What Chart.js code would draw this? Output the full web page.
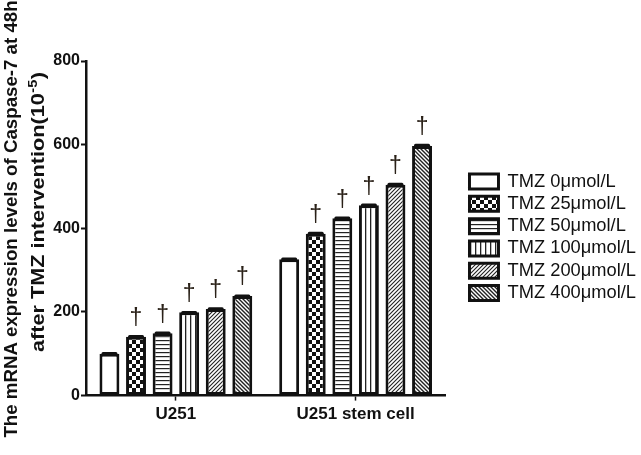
<!DOCTYPE html>
<html><head><meta charset="utf-8">
<script src="https://cdn.jsdelivr.net/npm/chart.js@4.4.1/dist/chart.umd.min.js"></script>
<style>html,body{margin:0;padding:0;background:#fff}#wrap{width:641px;height:455px}</style>
</head><body><div id="wrap"><canvas id="c" width="641" height="455"></canvas></div>
<script>
// ---- data ----
const categories = ['U251', 'U251 stem cell'];
const seriesNames = ['TMZ 0\u03bcmol/L', 'TMZ 25\u03bcmol/L', 'TMZ 50\u03bcmol/L', 'TMZ 100\u03bcmol/L', 'TMZ 200\u03bcmol/L', 'TMZ 400\u03bcmol/L'];
const tmz0   = [100, 326];
const tmz25  = [141, 387];
const tmz50  = [149, 424];
const tmz100 = [199, 455];
const tmz200 = [207, 504];
const tmz400 = [238, 597];
const err0   = [4, 4];
const err25  = [4, 5];
const err50  = [4, 4];
const err100 = [3, 4];
const err200 = [4, 5];
const err400 = [4, 5];
const sig0   = [false, false];
const sig25  = [true, true];
const sig50  = [true, true];
const sig100 = [true, true];
const sig200 = [true, true];
const sig400 = [true, true];
const yTicks = [0, 200, 400, 600, 800];
const yTitleLine1 = 'The mRNA expression levels of Caspase-7 at 48h';
const yTitleLine2 = ['after TMZ intervention(10', '-5', ')'];

const FONT = '"Liberation Sans", Arial, sans-serif';

function makePattern(type) {
  const c = document.createElement('canvas');
  const ctx = c.getContext('2d');
  let s = 8;
  if (type === 'white') { c.width = c.height = 4; ctx.fillStyle = '#fff'; ctx.fillRect(0,0,4,4); return ctx.createPattern(c,'repeat'); }
  if (type === 'checker') {
    s = 8; c.width = c.height = s;
    ctx.fillStyle = '#fff'; ctx.fillRect(0,0,s,s);
    ctx.fillStyle = '#111'; ctx.fillRect(0,0,4,4); ctx.fillRect(4,4,4,4);
  } else if (type === 'hlines') {
    c.width = 4; c.height = 4;
    ctx.fillStyle = '#fff'; ctx.fillRect(0,0,4,4);
    ctx.fillStyle = '#222'; ctx.fillRect(0,0,4,1.2);
  } else if (type === 'vlines') {
    c.width = 5; c.height = 5;
    ctx.fillStyle = '#fff'; ctx.fillRect(0,0,5,5);
    ctx.fillStyle = '#222'; ctx.fillRect(0,0,1.3,5);
  } else if (type === 'fwd' || type === 'back') {
    s = 4; c.width = c.height = s;
    ctx.fillStyle = '#fff'; ctx.fillRect(0,0,s,s);
    ctx.strokeStyle = '#222'; ctx.lineWidth = type === 'fwd' ? 1.1 : 1.4;
    ctx.beginPath();
    if (type === 'fwd') {
      ctx.moveTo(-1, s+1); ctx.lineTo(s+1, -1);
      ctx.moveTo(-1, 1); ctx.lineTo(1, -1);
      ctx.moveTo(s-1, s+1); ctx.lineTo(s+1, s-1);
    } else {
      ctx.moveTo(-1, -1); ctx.lineTo(s+1, s+1);
      ctx.moveTo(s-1, -1); ctx.lineTo(s+1, 1);
      ctx.moveTo(-1, s-1); ctx.lineTo(1, s+1);
    }
    ctx.stroke();
  }
  return ctx.createPattern(c, 'repeat');
}

const seriesValues = [tmz0, tmz25, tmz50, tmz100, tmz200, tmz400];
const seriesErr = [err0, err25, err50, err100, err200, err400];
const seriesSig = [sig0, sig25, sig50, sig100, sig200, sig400];
const patterns = ['white', 'checker', 'hlines', 'vlines', 'fwd', 'back'];

const datasets = seriesNames.map((n, i) => ({
  label: n,
  data: seriesValues[i],
  errors: seriesErr[i],
  sig: seriesSig[i],
  backgroundColor: makePattern(patterns[i]),
  borderColor: '#111',
  borderWidth: 3,
  borderSkipped: false,
  barPercentage: 0.75,
  categoryPercentage: 0.887
}));

const errPlugin = {
  id: 'errDagger',
  afterDatasetsDraw(chart) {
    const ctx = chart.ctx;
    const ys = chart.scales.y;
    chart.data.datasets.forEach((ds, di) => {
      const meta = chart.getDatasetMeta(di);
      meta.data.forEach((el, i) => {
        const v = ds.data[i], e = ds.errors[i];
        const yTop = ys.getPixelForValue(v + e);
        const w = el.width;
        ctx.save();
        ctx.fillStyle = '#111';
        ctx.beginPath();
        if (ctx.roundRect) ctx.roundRect(el.x - w * 0.4, yTop, w * 0.8, el.y - yTop + 2, 1.5);
        else ctx.rect(el.x - w * 0.4, yTop, w * 0.8, el.y - yTop + 2);
        ctx.fill();
        if (ds.sig[i]) {
          ctx.fillStyle = '#2a2118';
          ctx.font = '23px ' + FONT;
          ctx.textAlign = 'center';
          ctx.textBaseline = 'alphabetic';
          ctx.fillText('\u2020', el.x, yTop - 10);
        }
        ctx.restore();
      });
    });
  }
};

// y-axis title (two lines, second with superscript), drawn next to the y scale
const titlePlugin = {
  id: 'yTitle',
  afterDraw(chart) {
    const ctx = chart.ctx;
    ctx.save();
    ctx.fillStyle = '#111';
    ctx.textBaseline = 'alphabetic';
    ctx.save();
    ctx.translate(17, 219);
    ctx.rotate(-Math.PI / 2);
    ctx.font = 'bold 18.7px ' + FONT;
    ctx.textAlign = 'center';
    ctx.fillText(yTitleLine1, 0, 0);
    ctx.restore();
    ctx.save();
    ctx.translate(44, 352);
    ctx.rotate(-Math.PI / 2);
    ctx.textAlign = 'left';
    const big = 'bold 18.7px ' + FONT, small = 'bold 12.5px ' + FONT;
    ctx.font = big; const w1 = ctx.measureText(yTitleLine2[0]).width;
    ctx.font = small; const w2 = ctx.measureText(yTitleLine2[1]).width;
    ctx.font = big; const w3 = ctx.measureText(yTitleLine2[2]).width;
    const target = 280;
    ctx.scale(target / (w1 + w2 + w3 + 1), 1);
    ctx.font = big; ctx.fillText(yTitleLine2[0], 0, 0);
    ctx.font = small; ctx.fillText(yTitleLine2[1], w1 + 0.5, -7.5);
    ctx.font = big; ctx.fillText(yTitleLine2[2], w1 + w2 + 1, 0);
    ctx.restore();
    ctx.restore();
  }
};

new Chart(document.getElementById('c'), {
  type: 'bar',
  data: { labels: categories, datasets },
  plugins: [errPlugin, titlePlugin],
  options: {
    responsive: false,
    animation: false,
    devicePixelRatio: 1,
    layout: { padding: { left: 0, right: -5, top: 61, bottom: 26 } },
    plugins: {
      tooltip: { enabled: false },
      legend: {
        position: 'right',
        align: 'center',
        fullSize: false,
        maxWidth: 260,
        title: { display: true, text: ' ', font: { size: 15, lineHeight: 1.2 }, padding: 0 },
        labels: {
          font: { family: FONT, size: 18.3 },
          color: '#111',
          boxWidth: 29,
          boxHeight: 15,
          padding: 4
        }
      }
    },
    scales: {
      x: {
        offset: true,
        grid: { display: true, drawOnChartArea: false, offset: false, tickLength: 5, tickColor: '#111', tickWidth: 1.5 },
        border: { display: true, color: '#111', width: 2.5 },
        ticks: { font: { family: FONT, size: 17, weight: 'bold' }, color: '#111', padding: 4, maxRotation: 0 }
      },
      y: {
        min: 0, max: 800,
        afterBuildTicks: (s) => { s.ticks = yTicks.map(v => ({ value: v })); },
        afterFit: (s) => { s.width = 86; },
        grid: { display: true, drawOnChartArea: false, tickLength: 5, tickColor: '#111', tickWidth: 2 },
        border: { display: true, color: '#111', width: 2.5 },
        ticks: { font: { family: FONT, size: 16, weight: 'bold' }, color: '#111', padding: 1 },
        title: { display: false }
      },
      ySpace: {
        position: 'right',
        min: 0, max: 1,
        grid: { display: false },
        border: { display: false },
        ticks: { display: false },
        afterFit: (s) => { s.width = 20; }
      }
    }
  }
});
</script>
</body></html>
